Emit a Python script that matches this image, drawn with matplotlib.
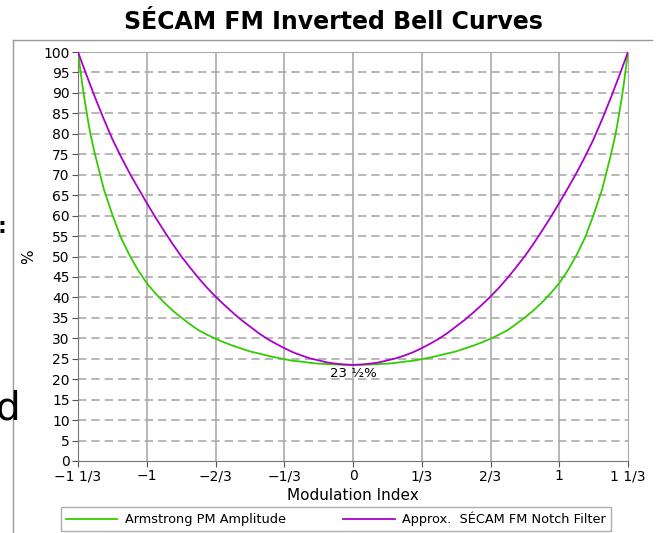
import matplotlib
matplotlib.use("Agg")
import matplotlib.pyplot as plt
from matplotlib.lines import Line2D

# modulation index sample points (in 24ths)
x_purple = [-32/24, -31/24, -30/24, -29/24, -28/24, -27/24, -26/24, -25/24, -24/24,
            -23/24, -22/24, -21/24, -20/24, -19/24, -18/24, -17/24, -16/24,
            -15/24, -14/24, -13/24, -12/24, -11/24, -10/24, -9/24, -8/24,
            -7/24, -6/24, -5/24, -4/24, -3/24, -2/24, -1/24, 0,
            1/24, 2/24, 3/24, 4/24, 5/24, 6/24, 7/24, 8/24,
            9/24, 10/24, 11/24, 12/24, 13/24, 14/24, 15/24, 16/24,
            17/24, 18/24, 19/24, 20/24, 21/24, 22/24, 23/24, 24/24,
            25/24, 26/24, 27/24, 28/24, 29/24, 30/24, 31/24, 32/24]
y_purple = [100, 94.3, 88.8, 83.6, 78.7, 74.4, 70.4, 66.7, 63.1,
            59.6, 56.3, 53.1, 50.1, 47.4, 44.8, 42.4, 40.2,
            38.2, 36.3, 34.5, 32.9, 31.3, 29.9, 28.7, 27.6,
            26.6, 25.8, 25.1, 24.6, 24.1, 23.8, 23.6, 23.5,
            23.6, 23.8, 24.1, 24.6, 25.1, 25.8, 26.6, 27.6,
            28.7, 29.9, 31.3, 32.9, 34.5, 36.3, 38.2, 40.2,
            42.4, 44.8, 47.4, 50.1, 53.1, 56.3, 59.6, 63.1,
            66.7, 70.4, 74.4, 78.7, 83.6, 88.8, 94.3, 100]

x_green = [-32/24, -1.3229, -1.3125, -1.3021, -31/24, -1.2813, -1.2708, -30/24,
           -29/24, -28/24, -27/24, -26/24, -25/24, -24/24,
           -23/24, -22/24, -21/24, -20/24, -19/24, -18/24, -17/24, -16/24,
           -15/24, -14/24, -13/24, -12/24, -11/24, -10/24, -9/24, -8/24,
           -7/24, -6/24, -5/24, -4/24, -3/24, -2/24, -1/24, 0,
           1/24, 2/24, 3/24, 4/24, 5/24, 6/24, 7/24, 8/24,
           9/24, 10/24, 11/24, 12/24, 13/24, 14/24, 15/24, 16/24,
           17/24, 18/24, 19/24, 20/24, 21/24, 22/24, 23/24, 24/24,
           25/24, 26/24, 27/24, 28/24, 29/24,
           30/24, 1.2708, 1.2813, 31/24, 1.3021, 1.3125, 1.3229, 32/24]
y_green = [100, 96, 92, 88.5, 85.3, 82.2, 79.4, 74.8,
           66.5, 60.2, 54.6, 50.3, 46.6, 43.5,
           41.0, 38.8, 36.8, 35.1, 33.5, 32.0, 30.9, 29.9,
           29.0, 28.2, 27.5, 26.8, 26.3, 25.8, 25.3, 24.9,
           24.5, 24.3, 24.0, 23.8, 23.7, 23.6, 23.5, 23.5,
           23.5, 23.6, 23.7, 23.8, 24.0, 24.3, 24.5, 24.9,
           25.3, 25.8, 26.3, 26.8, 27.5, 28.2, 29.0, 29.9,
           30.9, 32.0, 33.5, 35.1, 36.8, 38.8, 41.0, 43.5,
           46.6, 50.3, 54.6, 60.2, 66.5,
           74.8, 79.4, 82.2, 85.3, 88.5, 92, 96, 100]

xtick_pos = [-4/3, -1, -2/3, -1/3, 0, 1/3, 2/3, 1, 4/3]
xtick_lab = ['\u22121 1/3', '\u22121', '\u22122/3', '\u22121/3', '0', '1/3', '2/3', '1', '1 1/3']
ytick_pos = list(range(0, 101, 5))

green = '#33cc00'
purple = '#aa00cc'

plt.rcParams['font.family'] = ['DejaVu Sans']
fig = plt.figure(figsize=(6.57, 5.33), dpi=100)
ax = fig.add_axes([78/657, 1 - 461/533, 550/657, 409/533])

ax.plot(x_green, y_green, color=green, lw=1.3, zorder=3)
ax.plot(x_purple, y_purple, color=purple, lw=1.3, zorder=4)

ax.set_xlim(-4/3, 4/3)
ax.set_ylim(0, 100)
ax.set_xticks(xtick_pos)
ax.set_xticklabels(xtick_lab)
ax.set_yticks(ytick_pos)
ax.tick_params(labelsize=10, length=4, color='#555555', pad=2)
for s in ax.spines.values():
    s.set_color('#aaaaaa')
ax.spines['left'].set_color('#777777')
ax.spines['bottom'].set_color('#777777')

for v in ytick_pos[1:-1]:
    ax.axhline(v, color='#aaaaaa', lw=1.2, ls=(0, (5, 3)), zorder=1)
for v in xtick_pos[1:-1]:
    ax.axvline(v, color='#aaaaaa', lw=1.2, zorder=1)

ax.text(0, 23.0, '23 \u00bd%', ha='center', va='top', fontsize=9.5)
ax.set_xlabel('Modulation Index', fontsize=11, labelpad=3)
ax.set_ylabel('%', fontsize=11, labelpad=5)

fig.text(333/657, 1 - 22/533, 'SÉCAM FM Inverted Bell Curves', ha='center', va='center',
         fontsize=17, fontweight='bold')

handles = [Line2D([], [], color=green, lw=1.3), Line2D([], [], color=purple, lw=1.3)]
fig.legend(handles, ['Armstrong PM Amplitude', 'Approx.  SÉCAM FM Notch Filter'],
           ncol=2, loc='lower center', bbox_to_anchor=(336/657, 2/533),
           fontsize=9.3, frameon=True, fancybox=False, edgecolor='#999999',
           handlelength=4, handletextpad=0.6, columnspacing=4.4, borderpad=0.35,
           borderaxespad=0)

# stray bits of the surrounding page
fig.add_artist(Line2D([13/657, 13/657], [0, 1 - 40/533], color='#999999', lw=1))
fig.add_artist(Line2D([13/657, 652/657], [1 - 40/533, 1 - 40/533], color='#999999', lw=1))
fig.text(-4/657, 1 - 409/533, 'd', fontsize=28, va='center', ha='left')
fig.text(-2/657, 1 - 227/533, ':', fontsize=16, va='center', ha='left', fontweight='bold')

fig.savefig('out.png', dpi=100)
